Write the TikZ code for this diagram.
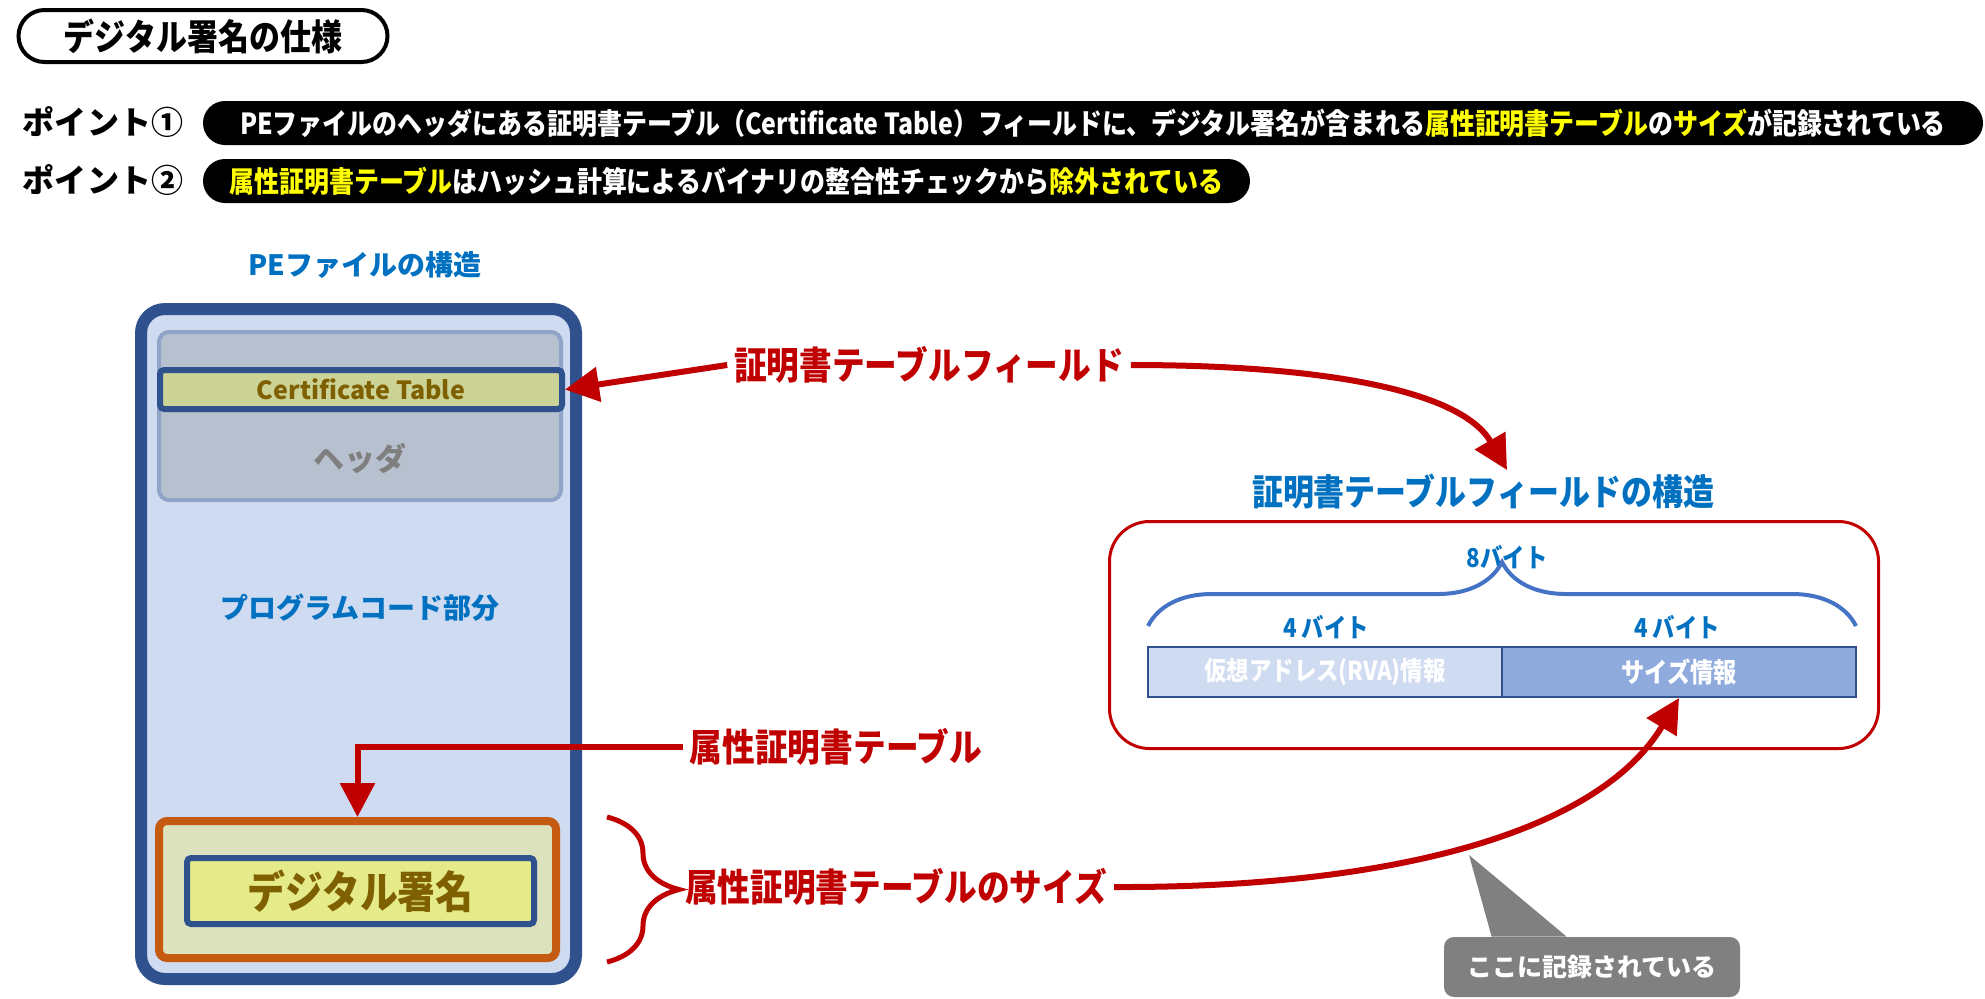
\documentclass[tikz,border=0pt]{standalone}
\usepackage{fontspec}
\setmainfont{Noto Sans CJK JP}
\newfontfamily\jpc{Noto Sans CJK JP}[FakeStretch=0.86]
\usetikzlibrary{arrows.meta,decorations.pathreplacing}
\definecolor{cred}{RGB}{192,0,0}
\definecolor{cblue}{RGB}{0,112,192}
\definecolor{cnavy}{RGB}{47,82,143}
\definecolor{cpale}{RGB}{207,219,240}
\definecolor{chead}{RGB}{183,192,207}
\definecolor{cheadline}{RGB}{143,165,200}
\definecolor{colive}{RGB}{204,211,150}
\definecolor{cbrown}{RGB}{127,96,0}
\definecolor{corange}{RGB}{197,90,17}
\definecolor{cattr}{RGB}{219,226,189}
\definecolor{csig}{RGB}{230,235,138}
\definecolor{cbrace}{RGB}{68,114,196}
\definecolor{csize}{RGB}{143,170,220}
\definecolor{cnote}{RGB}{128,128,128}
\definecolor{cgrey}{RGB}{127,127,127}
\definecolor{chi}{RGB}{255,255,0}
\newcommand\fs[1]{\fontsize{#1}{#1}\selectfont}
\begin{document}
\begin{tikzpicture}[x=0.5pt,y=-0.5pt,
	redlbl/.style={text=cred,font=\jpc\bfseries\fs{19pt}},
	redarrow/.style={draw=cred,line width=3pt,-{Triangle[length=17pt,width=17pt]}},
	pill/.style={fill=black,rounded corners=11pt,minimum height=22pt,text=white,font=\jpc\bfseries\fs{14.5pt}},
	ptlbl/.style={font=\bfseries\fs{16pt}},
	bytebox/.style={draw=cnavy,line width=1pt,minimum width=177pt,minimum height=25pt,text=white},
	bytelbl/.style={text=cblue,font=\jpc\bfseries\fs{13pt}}]
	\useasboundingbox (0,0) rectangle (1985,998);
	% title
	\node[draw,line width=2pt,rounded corners=13pt,minimum width=184.5pt,minimum height=26pt,font=\jpc\bfseries\fs{18pt}] (title) at (203,36) {デジタル署名の仕様};
	%% the two points
	\node[ptlbl] (pt1) at (103,122) {ポイント①};
	\node[ptlbl] (pt2) at (103,180) {ポイント②};
	\node[pill,minimum width=890pt] (txt1) at (1093,123) {PEファイルのヘッダにある証明書テーブル（Certificate Table）フィールドに、デジタル署名が含まれる\textcolor{chi}{属性証明書テーブル}の\textcolor{chi}{サイズ}が記録されている};
	\node[pill,minimum width=523.5pt] (txt2) at (726.5,181) {\textcolor{chi}{属性証明書テーブル}はハッシュ計算によるバイナリの整合性チェックから\textcolor{chi}{除外されている}};
	%% the PE file
	\node[text=cblue,font=\bfseries\fs{14pt}] (pelbl) at (365,265) {PEファイルの構造};
	\node[draw=cnavy,fill=cpale,line width=6pt,rounded corners=12pt,minimum width=217.5pt,minimum height=335pt] (pe) at (358.5,644) {};
	\node[draw=cheadline,fill=chead,line width=2pt,rounded corners=5pt,minimum width=201pt,minimum height=84pt] (hdr) at (360,416) {};
	\node[draw=cnavy,fill=colive,line width=3pt,rounded corners=2pt,minimum width=201pt,minimum height=19.5pt,text=cbrown,font=\bfseries\fs{12.5pt}] (cert) at (361,389.5) {Certificate Table};
	\node[text=cgrey,font=\bfseries\fs{15.5pt}] (hdrlbl) at (360,458) {ヘッダ};
	\node[text=cblue,font=\bfseries\fs{14pt}] (codelbl) at (360,608) {プログラムコード部分};
	\node[draw=corange,fill=cattr,line width=4pt,rounded corners=4pt,minimum width=198.5pt,minimum height=68.5pt] (attr) at (357.5,889.5) {};
	\node[draw=cnavy,fill=csig,line width=3pt,rounded corners=2pt,minimum width=173.5pt,minimum height=33pt,text=cbrown,font=\jpc\bfseries\fs{22pt}] (sig) at (360.5,891) {デジタル署名};
	%% red labels
	\node[redlbl] (ctf) at (929,365) {証明書テーブルフィールド};
	\node[redlbl] (atl) at (836,747) {属性証明書テーブル};
	\node[redlbl] (ats) at (896,887) {属性証明書テーブルのサイズ};
	\coordinate (brt) at (607,817);
	\coordinate (brb) at (607,962);
	\draw[cred,line width=2.5pt,decorate,decoration={brace,amplitude=36pt}] (brt) -- (brb);
	%% the certificate table field
	\node[text=cblue,font=\jpc\bfseries\fs{18pt}] (fslbl) at (1483,492) {証明書テーブルフィールドの構造};
	\node[draw=cred,line width=1.5pt,rounded corners=20pt,minimum width=384.5pt,minimum height=113.5pt] (fbox) at (1494,635) {};
	\node[bytelbl] (b8) at (1507,557) {8バイト};
	\node[bytelbl] (b4l) at (1326,627) {4 バイト};
	\node[bytelbl] (b4r) at (1677,627) {4 バイト};
	\node[bytebox,fill=cpale,font=\jpc\bfseries\fs{13pt}] (rva) at (1325,672) {仮想アドレス(RVA)情報};
	\node[bytebox,fill=csize,font=\jpc\bfseries\fs{13.5pt}] (szb) at (1679,672) {サイズ情報};
	\coordinate (bl) at (1148,626);
	\coordinate (br) at (1856,626);
	\draw[cbrace,line width=2pt,decorate,decoration={brace,amplitude=32pt}] (bl) -- (br);
	%% the arrows
	\coordinate (ctftip) at (1507,470);
	\draw[redarrow] (ctf.west) -- (cert.east);
	\draw[redarrow] (ctf.east) .. controls (1330,365) and (1462,392) .. (ctftip);
	\draw[redarrow] (atl.west) -| (attr.north);
	\draw[redarrow] (ats.east) .. controls (1400,888) and (1600,830) .. (szb.south);
	%% the note
	\node[fill=cnote,rounded corners=5pt,minimum width=148pt,minimum height=30pt,text=white,font=\bfseries\fs{12.5pt}] (note) at (1592,967) {ここに記録されている};
	\coordinate (notetip) at (1469,855);
	\fill[cnote] ([xshift=24pt]note.north west) -- (notetip) -- ([xshift=61.5pt]note.north west) -- cycle;
\end{tikzpicture}
\end{document}
